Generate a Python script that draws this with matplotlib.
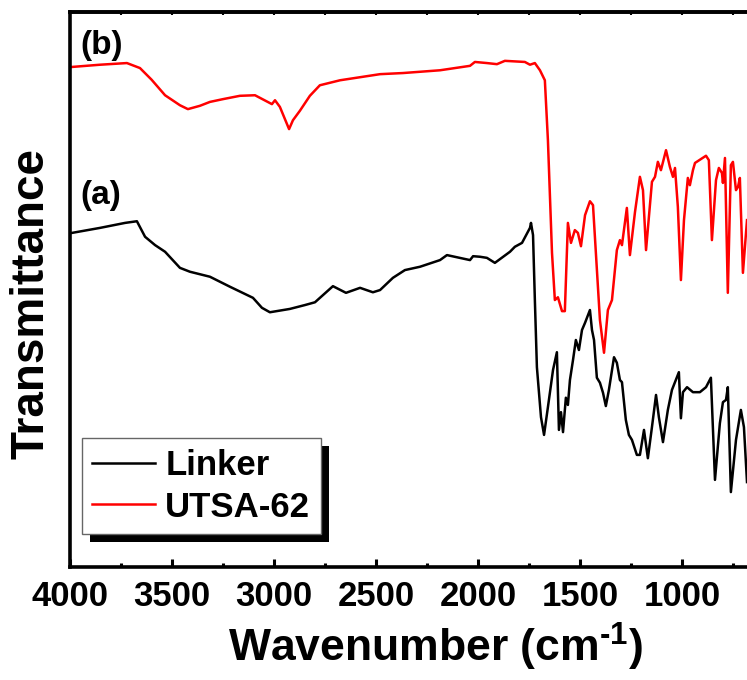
import matplotlib
matplotlib.use("Agg")
import matplotlib.pyplot as plt
from matplotlib.patches import Rectangle
import numpy as np

plt.rcParams["font.family"] = ["Liberation Sans", "DejaVu Sans"]
plt.rcParams["font.weight"] = "bold"
plt.rcParams["axes.labelweight"] = "bold"
plt.rcParams["mathtext.fontset"] = "custom"
plt.rcParams["mathtext.rm"] = "Liberation Sans:bold"
plt.rcParams["mathtext.bf"] = "Liberation Sans:bold"
plt.rcParams["mathtext.default"] = "rm"

# FTIR spectra (transmittance in arbitrary units, 0-100 frame)
linker_wn = [3990, 3853, 3730, 3672, 3632, 3583, 3534, 3461, 3412, 3314, 3216, 3103, 3059,
             3020, 2922, 2848, 2799, 2711, 2647, 2578, 2515, 2480, 2417, 2358, 2284, 2186,
             2152, 2039, 2024, 1990, 1956, 1917, 1843, 1819, 1784, 1745, 1740, 1730, 1721,
             1711, 1691, 1676, 1657, 1632, 1613, 1603, 1593, 1583, 1569, 1559, 1549, 1534,
             1520, 1505, 1490, 1475, 1451, 1441, 1431, 1417, 1402, 1387, 1373, 1358, 1333,
             1319, 1304, 1294, 1275, 1260, 1245, 1221, 1206, 1186, 1167, 1147, 1127, 1113,
             1093, 1069, 1049, 1015, 1005, 995, 975, 946, 912, 882, 858, 838, 814, 799, 784,
             775, 760, 735, 711, 696, 681]
linker_t = [60.2, 61.1, 62.0, 62.3, 59.5, 58.0, 56.8, 53.9, 53.2, 52.3, 50.5, 48.5, 46.7,
            45.9, 46.5, 47.2, 47.7, 50.6, 49.4, 50.3, 49.5, 49.9, 52.1, 53.5, 54.1, 55.3,
            56.2, 55.3, 56.0, 55.9, 55.7, 54.8, 56.8, 57.7, 58.4, 61.1, 62.0, 59.8, 48.1,
            36.0, 27.0, 23.8, 28.8, 35.5, 38.7, 24.7, 27.9, 24.3, 30.5, 29.2, 33.7, 37.3,
            40.9, 39.1, 42.7, 44.0, 46.3, 42.7, 40.9, 34.1, 33.2, 31.4, 29.0, 31.9, 37.8,
            36.8, 33.7, 33.3, 26.5, 23.8, 22.9, 20.2, 20.2, 24.7, 19.6, 25.2, 31.0, 27.0,
            22.5, 28.3, 31.9, 35.1, 26.8, 31.5, 32.4, 31.5, 31.5, 32.4, 34.1, 15.7, 25.9,
            29.7, 30.1, 32.4, 13.5, 22.9, 28.3, 25.2, 15.3]

utsa_wn = [3990, 3853, 3721, 3657, 3600, 3534, 3461, 3422, 3363, 3314, 3250, 3167, 3093,
           3010, 2995, 2971, 2926, 2907, 2873, 2824, 2775, 2676, 2480, 2368, 2186, 2039,
           2015, 1956, 1907, 1868, 1770, 1745, 1721, 1696, 1672, 1657, 1637, 1623, 1608,
           1588, 1574, 1559, 1544, 1525, 1510, 1495, 1475, 1451, 1436, 1402, 1382, 1363,
           1343, 1319, 1304, 1294, 1270, 1255, 1230, 1206, 1191, 1176, 1147, 1132, 1118,
           1103, 1078, 1059, 1044, 1034, 1020, 1005, 990, 971, 961, 946, 936, 882, 868, 853,
           833, 819, 804, 799, 789, 775, 760, 750, 735, 725, 716, 701, 681]
utsa_t = [90.1, 90.5, 90.8, 89.9, 87.8, 85.0, 83.2, 82.5, 83.1, 83.8, 84.3, 84.9, 85.0,
          83.4, 84.1, 82.9, 78.9, 80.5, 82.2, 84.9, 86.8, 87.7, 88.8, 89.0, 89.5, 90.3,
          91.0, 90.8, 90.6, 91.2, 91.0, 90.5, 90.8, 89.5, 87.7, 76.9, 56.6, 48.1, 48.6,
          46.1, 46.1, 62.0, 58.4, 60.7, 60.2, 57.8, 63.4, 65.9, 65.2, 44.5, 38.6, 46.3,
          48.1, 57.1, 58.9, 58.0, 64.7, 56.2, 64.0, 70.3, 67.9, 57.1, 69.4, 70.3, 73.0,
          71.5, 75.1, 72.1, 70.3, 71.9, 64.9, 51.7, 62.5, 70.1, 68.8, 71.5, 72.8, 74.1,
          73.3, 58.9, 69.7, 71.9, 71.0, 69.2, 73.7, 49.4, 72.4, 73.0, 67.9, 68.5, 70.1,
          53.0, 62.5]

fig = plt.figure(figsize=(7.47, 6.8), dpi=100)
ax = fig.add_axes([70 / 747, 113 / 680, 677 / 747, 555 / 680])

ax.plot(linker_wn, linker_t, color="black", lw=1.8, label="Linker")
ax.plot(utsa_wn, utsa_t, color="#ff0000", lw=1.8, label="UTSA-62")

ax.set_xlim(4000, 681)
ax.set_ylim(0, 100)
ax.set_yticks([])
ax.set_xticks(np.arange(4000, 681, -500))
ax.set_xticks(np.arange(3750, 681, -500), minor=True)
ax.tick_params(axis="x", which="major", direction="in", length=6, width=2.2,
               labelsize=25, pad=9, top=False)
ax.tick_params(axis="x", which="minor", direction="in", length=3, width=2.2, top=False)
for s in ["left", "bottom", "top"]:
    ax.spines[s].set_linewidth(2.6)
ax.spines["right"].set_visible(False)

# small ticks along the top edge
top = ax.secondary_xaxis("top")
top.set_xticks(np.arange(4000, 681, -250))
top.tick_params(direction="in", length=2.5, width=1.5, labeltop=False)
top.spines["top"].set_linewidth(2.6)

ax.set_xlabel(r"Wavenumber (cm$^{\text{-}1}$)", fontsize=32, fontweight="bold")
ax.xaxis.set_label_coords(0.54, -0.097)
ax.set_ylabel("Transmittance", fontsize=33, fontweight="bold")
ax.yaxis.set_label_coords(-0.024, 0.474)

ax.text(0.015, 0.939, "(b)", transform=ax.transAxes, fontsize=24, va="center", ha="left")
ax.text(0.015, 0.670, "(a)", transform=ax.transAxes, fontsize=24, va="center", ha="left")

leg = ax.legend(loc="lower left", bbox_to_anchor=(0.0177, 0.0595), borderaxespad=0,
                fontsize=25, fancybox=False, framealpha=1, edgecolor="0.4",
                handlelength=1.8, handletextpad=0.3, borderpad=0.3, labelspacing=0.25)
leg.get_frame().set_linewidth(1.0)

# drop shadow behind the legend box
fig.canvas.draw()
bb = leg.get_window_extent().transformed(fig.transFigure.inverted())
dx, dy = 8 / 747, 8 / 680
shadow = Rectangle((bb.x0 + dx, bb.y0 - dy), bb.width, bb.height, transform=fig.transFigure,
                   facecolor="black", edgecolor="none", zorder=4, clip_on=False)
ax.add_patch(shadow)

fig.savefig("out.png", dpi=100)
